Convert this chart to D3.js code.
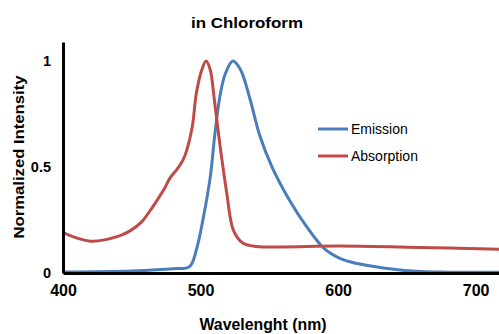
<!DOCTYPE html>
<html>
<head>
<meta charset="utf-8">
<script src="https://cdn.jsdelivr.net/npm/d3@7"></script>
<style>
  body { margin: 0; background: #fff; }
  svg { display: block; font-family: "Liberation Sans", Arial, sans-serif; }
</style>
</head>
<body>
<div id="chart"></div>
<script>
// spectra (wavelength nm, normalized intensity)
var emissionWl  = [400, 450, 480, 492, 497, 502, 507, 510.5, 514, 518, 523.5, 529, 536, 543, 552, 565, 577, 590, 601, 612, 633, 657, 680, 720];
var emissionVal = [0.005, 0.01, 0.02, 0.03, 0.11, 0.26, 0.45, 0.66, 0.83, 0.94, 1.0, 0.96, 0.82, 0.65, 0.5, 0.34, 0.22, 0.115, 0.07, 0.047, 0.024, 0.008, 0.004, 0.003];

var absorptionWl  = [400, 420, 441, 449, 457, 465, 473, 478, 483, 487, 490, 494, 497, 501, 504, 507, 510, 514, 519, 524, 531, 541, 560, 600, 650, 720];
var absorptionVal = [0.19, 0.15, 0.175, 0.2, 0.24, 0.31, 0.39, 0.45, 0.49, 0.53, 0.58, 0.69, 0.85, 0.96, 1.0, 0.96, 0.82, 0.61, 0.38, 0.2, 0.14, 0.125, 0.123, 0.127, 0.122, 0.112];

var xTicks = [400, 500, 600, 700];
var yTicks = [0, 0.5, 1];
var yTickLabels = ["0", "0.5", "1"];

var seriesNames = ["Emission", "Absorption"];
var seriesColors = ["#4a7ebb", "#be4b48"];

var margin = {top: 42, right: 0, bottom: 61, left: 63},
    width = 499 - margin.left - margin.right,
    height = 334 - margin.top - margin.bottom;

var svg = d3.select("#chart").append("svg")
    .attr("width", 499)
    .attr("height", 334);

var g = svg.append("g")
    .attr("transform", "translate(" + margin.left + "," + margin.top + ")");

var x = d3.scaleLinear().domain([400, 717]).range([0, width]);
var y = d3.scaleLinear().domain([0, 1.09]).range([height, 0]);

svg.append("defs").append("clipPath").attr("id", "clip")
    .append("rect").attr("x", 0).attr("y", -10).attr("width", width).attr("height", height + 10);

var line = d3.line()
    .x(function(d) { return x(d[0]); })
    .y(function(d) { return y(d[1]); })
    .curve(d3.curveCatmullRom.alpha(0.5));

var series = [
    d3.zip(emissionWl, emissionVal),
    d3.zip(absorptionWl, absorptionVal)
];

// lines
g.append("g").attr("clip-path", "url(#clip)")
  .selectAll("path")
  .data(series)
  .enter().append("path")
    .attr("fill", "none")
    .attr("stroke", function(d, i) { return seriesColors[i]; })
    .attr("stroke-width", 3)
    .attr("stroke-linejoin", "round")
    .attr("d", line);

// axes
var xAxis = g.append("g")
    .attr("transform", "translate(0," + height + ")")
    .call(d3.axisBottom(x).tickValues(xTicks).tickSize(0).tickPadding(12).tickFormat(d3.format("d")));
xAxis.select(".domain").attr("stroke", "#000").attr("stroke-width", 3);
xAxis.selectAll("text").attr("font-size", 16).attr("font-weight", "bold").attr("fill", "#000")
    .attr("font-family", "Liberation Sans, Arial, sans-serif");

var yAxis = g.append("g")
    .call(d3.axisLeft(y).tickValues(yTicks).tickSize(0).tickPadding(12)
        .tickFormat(function(d, i) { return yTickLabels[i]; }));
yAxis.select(".domain").attr("stroke", "#000").attr("stroke-width", 3);
yAxis.selectAll("text").attr("font-size", 14.5).attr("font-weight", "bold").attr("fill", "#000")
    .attr("font-family", "Liberation Sans, Arial, sans-serif");

// title and axis labels
svg.append("text")
    .attr("x", 247).attr("y", 28)
    .attr("text-anchor", "middle")
    .attr("font-size", 15).attr("font-weight", "bold")
    .attr("textLength", 112).attr("lengthAdjust", "spacingAndGlyphs")
    .text("in Chloroform");

svg.append("text")
    .attr("transform", "translate(24," + 157 + ") rotate(-90)")
    .attr("text-anchor", "middle")
    .attr("font-size", 15).attr("font-weight", "bold")
    .attr("textLength", 163).attr("lengthAdjust", "spacingAndGlyphs")
    .text("Normalized Intensity");

svg.append("text")
    .attr("x", 263).attr("y", 330)
    .attr("text-anchor", "middle")
    .attr("font-size", 16.5).attr("font-weight", "bold")
    .attr("textLength", 127).attr("lengthAdjust", "spacingAndGlyphs")
    .text("Wavelenght (nm)");

// legend
var legend = svg.append("g").attr("transform", "translate(318,129)");
var item = legend.selectAll("g")
    .data(seriesNames)
    .enter().append("g")
    .attr("transform", function(d, i) { return "translate(0," + (i * 27) + ")"; });
item.append("line")
    .attr("x1", 0).attr("x2", 30)
    .attr("stroke", function(d, i) { return seriesColors[i]; })
    .attr("stroke-width", 3);
item.append("text")
    .attr("x", 33).attr("dy", "0.35em")
    .attr("font-size", 14)
    .text(function(d) { return d; });
</script>
</body>
</html>
